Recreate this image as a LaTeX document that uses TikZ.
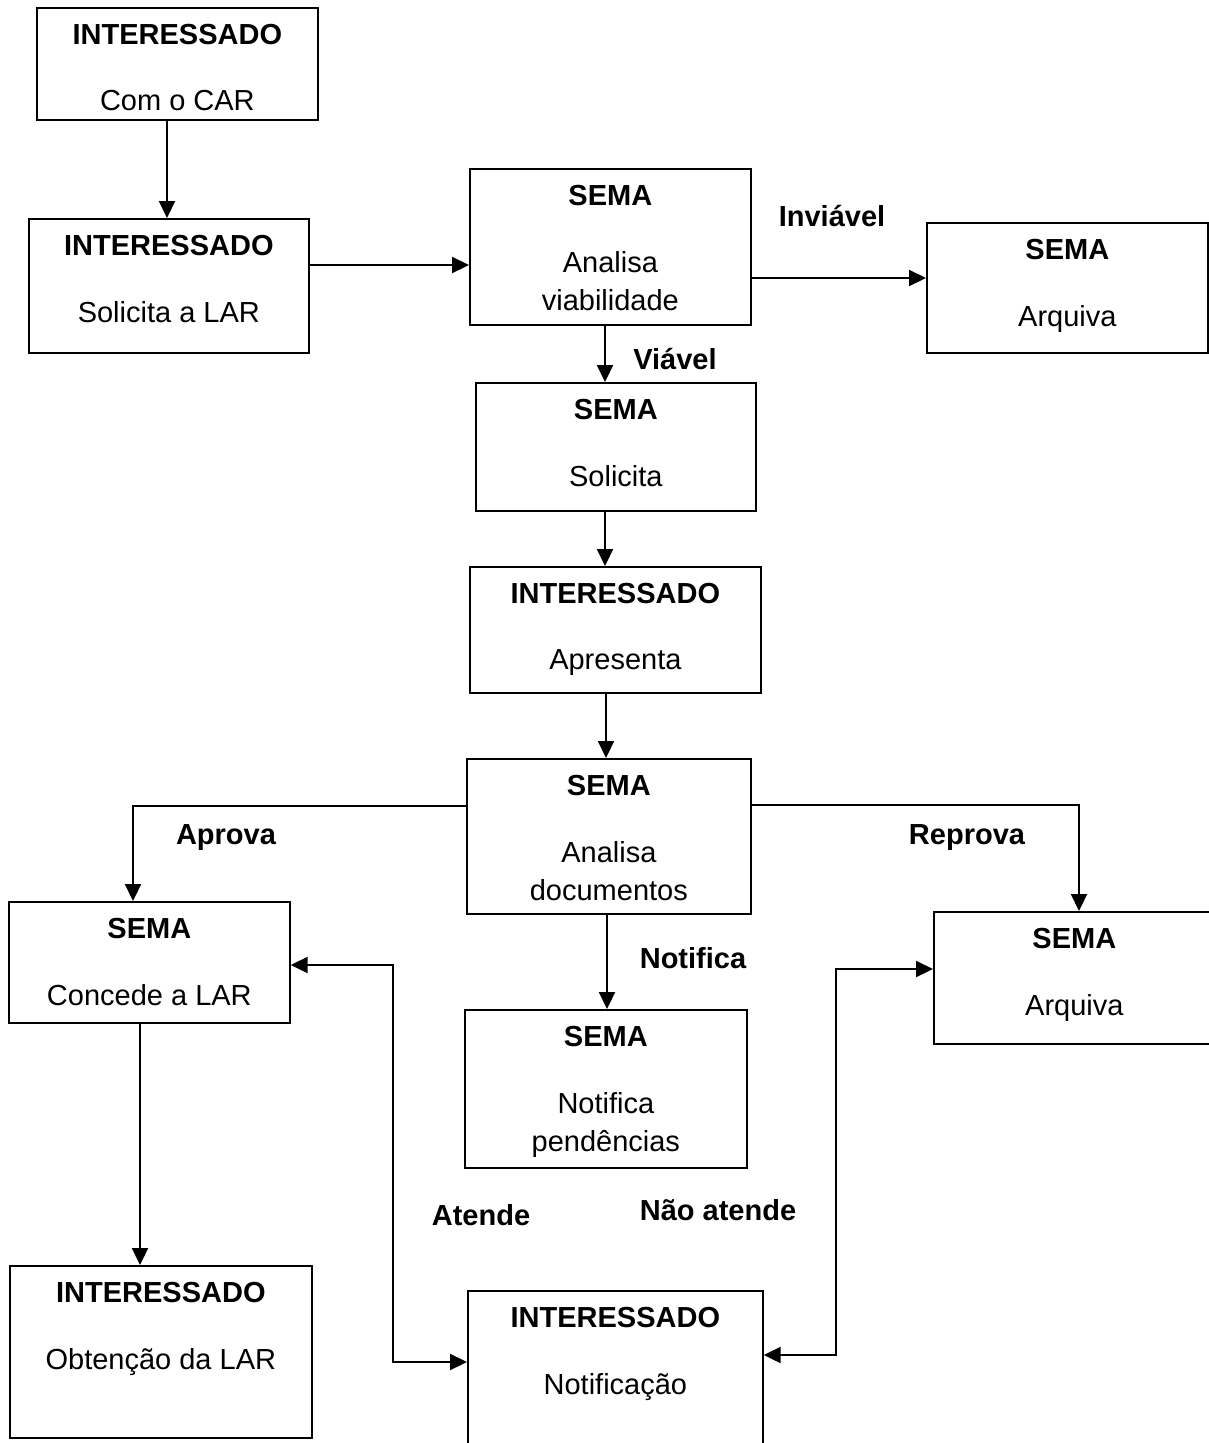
\documentclass[tikz,border=0pt]{standalone}
\usepackage{fontspec}
\setmainfont{Liberation Sans}
\usetikzlibrary{arrows.meta}

\begin{document}
\begin{tikzpicture}[x=1pt,y=-1pt]
		\tikzstyle{every node}=[font=\fontsize{29pt}{38pt}\selectfont]
		\tikzset{
			caixa/.style={draw, line width=1.7pt, anchor=north west, inner sep=0pt},
			titulo/.style={anchor=north, inner sep=0pt, yshift=-17.5pt, font=\fontsize{29pt}{38pt}\selectfont\bfseries},
			corpo/.style={anchor=north, inner sep=0pt, yshift=-83pt, align=center},
			rotulo/.style={inner sep=0pt, font=\fontsize{29pt}{38pt}\selectfont\bfseries},
			seta/.style={line width=2.2pt, -{Triangle[length=17pt,width=16pt]}},
			seta2/.style={line width=2.2pt, {Triangle[length=17pt,width=16pt]}-{Triangle[length=17pt,width=16pt]}}
		}
		\useasboundingbox (0,0) rectangle (1209,1443);
		\clip (0,0) rectangle (1209,1443);
		
		% caixas
		\node[caixa, minimum width=281pt, minimum height=112pt] (car) at (36,7) {};
		\node[titulo] (car-t) at (car.north) {INTERESSADO};
		\node[corpo] (car-c) at (car.north) {Com o CAR};
		
		\node[caixa, minimum width=280pt, minimum height=134pt] (sol) at (28,218) {};
		\node[titulo] (sol-t) at (sol.north) {INTERESSADO};
		\node[corpo] (sol-c) at (sol.north) {Solicita a LAR};
		
		\node[caixa, minimum width=281pt, minimum height=156pt] (via) at (469,168) {};
		\node[titulo] (via-t) at (via.north) {SEMA};
		\node[corpo] (via-c) at (via.north) {Analisa\\viabilidade};
		
		\node[caixa, minimum width=281pt, minimum height=130pt] (arq) at (926,222) {};
		\node[titulo] (arq-t) at (arq.north) {SEMA};
		\node[corpo] (arq-c) at (arq.north) {Arquiva};
		
		\node[caixa, minimum width=280pt, minimum height=128pt] (soli) at (475,382) {};
		\node[titulo] (soli-t) at (soli.north) {SEMA};
		\node[corpo] (soli-c) at (soli.north) {Solicita};
		
		\node[caixa, minimum width=291pt, minimum height=126pt] (apr) at (469,566) {};
		\node[titulo] (apr-t) at (apr.north) {INTERESSADO};
		\node[corpo] (apr-c) at (apr.north) {Apresenta};
		
		\node[caixa, minimum width=284pt, minimum height=155pt] (doc) at (466,758) {};
		\node[titulo] (doc-t) at (doc.north) {SEMA};
		\node[corpo] (doc-c) at (doc.north) {Analisa\\documentos};
		
		\node[caixa, minimum width=281pt, minimum height=121pt] (conc) at (8,901) {};
		\node[titulo] (conc-t) at (conc.north) {SEMA};
		\node[corpo] (conc-c) at (conc.north) {Concede a LAR};
		
		\node[caixa, minimum width=282pt, minimum height=158pt] (pend) at (464,1009) {};
		\node[titulo] (pend-t) at (pend.north) {SEMA};
		\node[corpo] (pend-c) at (pend.north) {Notifica\\pendências};
		
		\node[caixa, minimum width=281pt, minimum height=132pt] (arq2) at (933,911) {};
		\node[titulo] (arq2-t) at (arq2.north) {SEMA};
		\node[corpo] (arq2-c) at (arq2.north) {Arquiva};
		
		\node[caixa, minimum width=302pt, minimum height=172pt] (obt) at (9,1265) {};
		\node[titulo] (obt-t) at (obt.north) {INTERESSADO};
		\node[corpo] (obt-c) at (obt.north) {Obtenção da LAR};
		
		\node[caixa, minimum width=295pt, minimum height=190pt] (notif) at (467,1290) {};
		\node[titulo] (notif-t) at (notif.north) {INTERESSADO};
		\node[corpo] (notif-c) at (notif.north) {Notificação};
		
		% setas
		\draw[seta] (car.south -| 167,0) -- (sol.north -| 167,0);
		\draw[seta] (sol.east |- 0,265) -- (via.west |- 0,265);
		\draw[seta] (via.east |- 0,278) -- (arq.west |- 0,278);
		\draw[seta] (via.south -| 605,0) -- (soli.north -| 605,0);
		\draw[seta] (soli.south -| 605,0) -- (apr.north -| 605,0);
		\draw[seta] (apr.south -| 606,0) -- (doc.north -| 606,0);
		\draw[seta] (doc.west |- 0,806) -| (conc.north -| 133,0);
		\draw[seta] (doc.east |- 0,805) -| (arq2.north -| 1079,0);
		\draw[seta] (doc.south -| 607,0) -- (pend.north -| 607,0);
		\draw[seta] (conc.south -| 140,0) -- (obt.north -| 140,0);
		\draw[seta2] (conc.east |- 0,965) -| (393,1362) -- (notif.west |- 0,1362);
		\draw[seta2] (arq2.west |- 0,969) -| (836,1355) -- (notif.east |- 0,1355);
		
		% rotulos
		\node[rotulo] (inviavel) at (832,216) {Inviável};
		\node[rotulo] (viavel) at (675,359) {Viável};
		\node[rotulo] (aprova) at (226,838) {Aprova};
		\node[rotulo] (reprova) at (967,838) {Reprova};
		\node[rotulo] (notifica) at (693,958) {Notifica};
		\node[rotulo] (atende) at (481,1215) {Atende};
		\node[rotulo] (naoatende) at (718,1210) {Não atende};
		
	\end{tikzpicture}
\end{document}
